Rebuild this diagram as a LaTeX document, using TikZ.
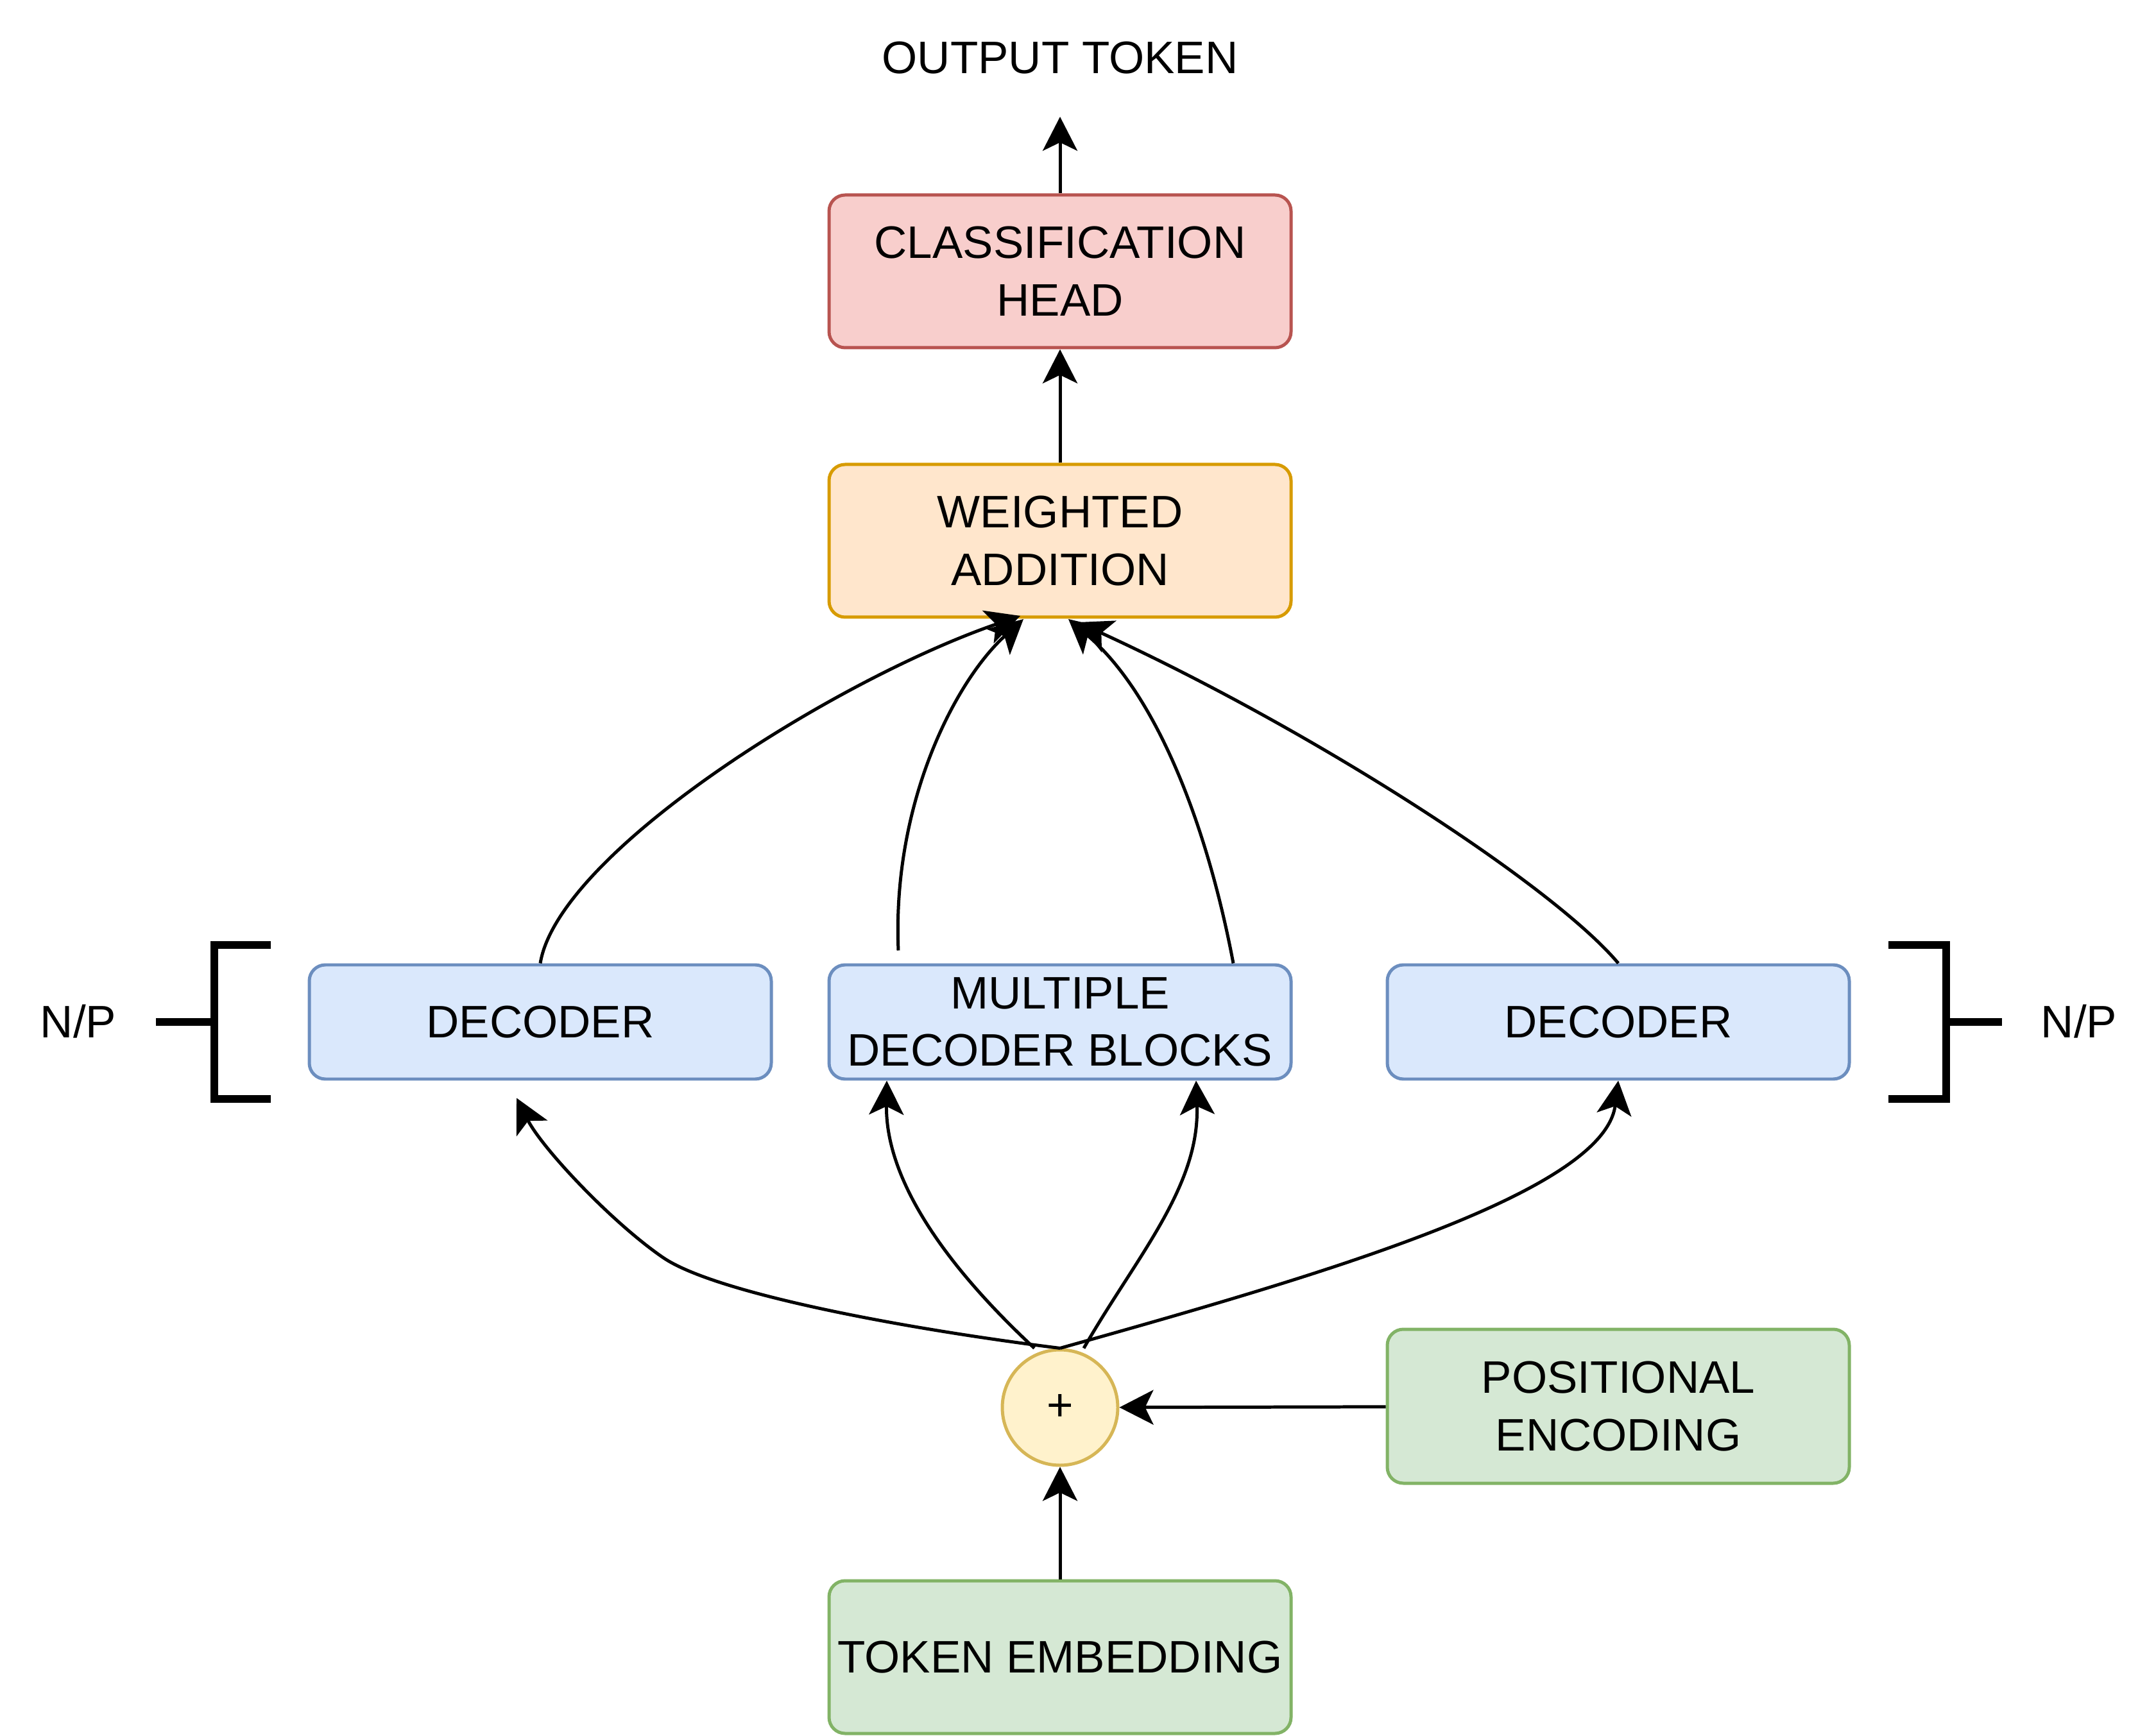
\documentclass[tikz,border=0pt]{standalone}
\usepackage{fontspec}
\setmainfont{Liberation Sans}
\usepackage{tikz}
\usetikzlibrary{arrows.meta,calc,positioning}
\usepackage{xcolor}
\definecolor{bluefill}{HTML}{DAE8FC}\definecolor{bluedraw}{HTML}{6C8EBF}
\definecolor{redfill}{HTML}{F8CECC}\definecolor{reddraw}{HTML}{B85450}
\definecolor{orfill}{HTML}{FFE6CC}\definecolor{ordraw}{HTML}{D79B00}
\definecolor{grfill}{HTML}{D5E8D4}\definecolor{grdraw}{HTML}{82B366}
\definecolor{yefill}{HTML}{FFF2CC}\definecolor{yedraw}{HTML}{D6B656}
\begin{document}
\begin{tikzpicture}[
    font=\fontsize{20.2}{25.5}\selectfont,
    box/.style={draw, rounded corners=0.25cm, line width=1.42pt, align=center,
      minimum width=7.2cm, minimum height=2.38cm, inner sep=0pt},
    decbox/.style={box, fill=bluefill, draw=bluedraw, minimum height=1.78cm},
    arr/.style={line width=1.42pt, -{Stealth[length=0.53cm, width=0.54cm, inset=0.13cm]}},
    brk/.style={line width=0.12cm}]
  \useasboundingbox (0,0) rectangle (33.6,-27.06);
  % boxes
  \node[box, fill=redfill, draw=reddraw] (cls) at (16.52,-4.23) {CLASSIFICATION\\HEAD};
  \node[box, fill=orfill, draw=ordraw] (wadd) at (16.52,-8.43) {WEIGHTED\\ADDITION};
  \node[decbox] (decL) at (8.42,-15.93) {DECODER};
  \node[decbox] (decM) at (16.52,-15.93) {MULTIPLE\\DECODER BLOCKS};
  \node[decbox] (decR) at (25.22,-15.93) {DECODER};
  \node[circle, draw=yedraw, fill=yefill, line width=1.42pt, minimum size=1.8cm, inner sep=0pt] (plus) at (16.52,-21.94) {+};
  \node[box, fill=grfill, draw=grdraw, minimum height=2.4cm] (pos) at (25.22,-21.92) {POSITIONAL\\ENCODING};
  \node[box, fill=grfill, draw=grdraw] (tok) at (16.52,-25.83) {TOKEN EMBEDDING};
  \node (out) at (16.52,-0.9) {OUTPUT TOKEN};
  \node (npL) at (1.22,-15.92) {N/P};
  \node (npR) at (32.4,-15.92) {N/P};
  \coordinate (outtip) at (16.52,-1.82);
  \coordinate (bend) at (10.33,-19.6);
  % brackets
  \draw[brk] (4.22,-14.73) -- (3.34,-14.73) -- (3.34,-17.13) -- (4.22,-17.13);
  \draw[brk] (2.43,-15.93) -- (3.34,-15.93);
  \draw[brk] (29.43,-14.73) -- (30.33,-14.73) -- (30.33,-17.13) -- (29.43,-17.13);
  \draw[brk] (30.33,-15.93) -- (31.2,-15.93);
  % straight arrows
  \draw[arr] (tok) -- (plus);
  \draw[arr] (pos) -- (plus);
  \draw[arr] (wadd) -- (cls);
  \draw[arr] (cls) -- (outtip);
  % decoders to weighted addition
  \draw[arr] (decL.north) .. controls (8.7,-13.3) and (13.0,-10.6) .. (15.9,-9.6);
  \draw[arr] ([shift={(-2.52,0.2)}]decM.north) .. controls (13.9,-12.5) and (14.9,-10.6) .. (15.95,-9.65);
  \draw[arr] ([xshift=2.7cm]decM.north) .. controls (18.8,-12.8) and (18.0,-10.8) .. (16.65,-9.65);
  \draw[arr] (decR.north) .. controls (24.2,-13.8) and (20.5,-11.4) .. (16.8,-9.7);
  % sum to decoders
  \draw[arr] (plus.north) .. controls (14.0,-20.7) and (11.13,-20.15) .. (bend)
    .. controls (9.53,-19.05) and (8.45,-17.9) .. ([shift={(-0.37,-0.27)}]decL.south);
  \draw[arr] ([xshift=-0.4cm]plus.north) .. controls (14.6,-19.6) and (13.8,-18.3) .. ([xshift=-2.7cm]decM.south);
  \draw[arr] ([xshift=0.37cm]plus.north) .. controls (17.7,-19.6) and (18.7,-18.5) .. ([xshift=2.12cm]decM.south);
  \draw[arr] (plus.north) .. controls (20.5,-19.9) and (25.0,-18.6) .. (decR.south);
\end{tikzpicture}
\end{document}
